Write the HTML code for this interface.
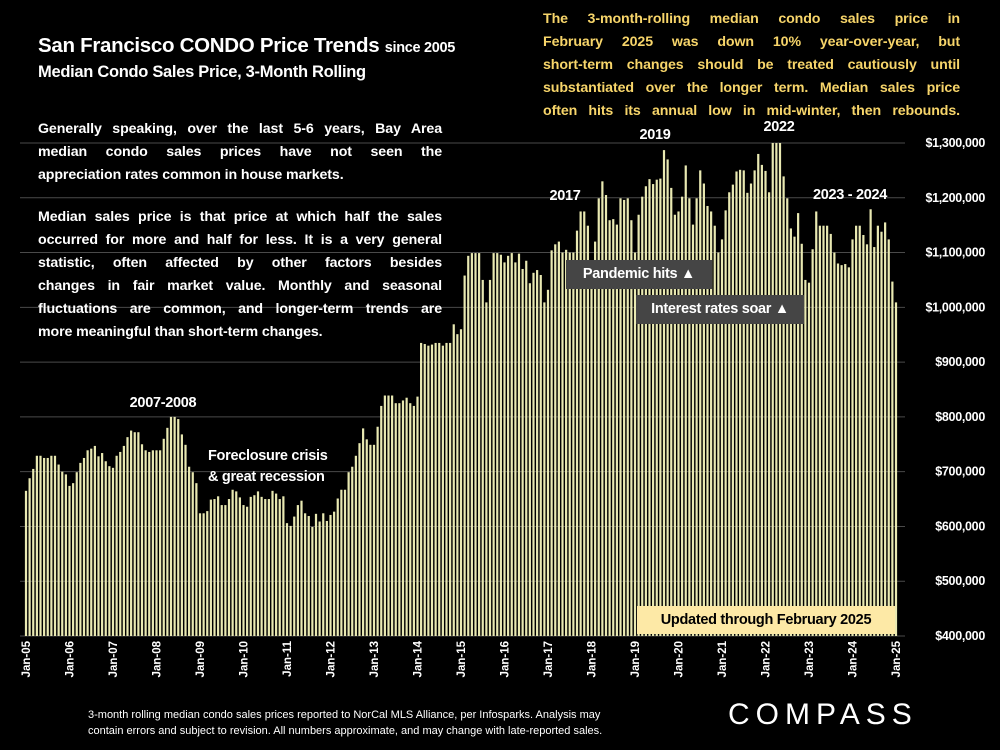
<!DOCTYPE html>
<html><head><meta charset="utf-8"><style>
body{margin:0;background:#000;width:1000px;height:750px;overflow:hidden;font-family:"Liberation Sans",sans-serif;color:#fff}
.t{position:absolute;font-weight:bold;letter-spacing:-0.3px}
.para{position:absolute;font-weight:bold;font-size:14.2px;line-height:23px;letter-spacing:-0.1px}
.para div{text-align:justify;text-align-last:justify;white-space:nowrap}
.para div.l{text-align-last:left}
.ann{position:absolute;font-weight:bold;font-size:14.5px;text-align:center;letter-spacing:-0.3px}
.box{position:absolute;background:#454545;color:#fff;font-weight:bold;font-size:14.5px;text-align:center;letter-spacing:-0.3px}
</style></head><body>
<svg id="chart" width="1000" height="750" style="position:absolute;left:0;top:0"></svg>

<div class="t" style="left:38px;top:34px;font-size:20.5px">San Francisco CONDO Price Trends <span style="font-size:14.5px">since 2005</span></div>
<div class="t" style="left:38px;top:63px;font-size:16.5px">Median Condo Sales Price, 3-Month Rolling</div>
<div class="para" style="left:543px;top:8px;width:417px;color:#f7d56a">
<div>The 3-month-rolling median condo sales price in</div>
<div>February 2025 was down 10% year-over-year, but</div>
<div>short-term changes should be treated cautiously until</div>
<div>substantiated over the longer term. Median sales price</div>
<div>often hits its annual low in mid-winter, then rebounds.</div>
</div>
<div class="para" style="left:38px;top:118px;width:404px">
<div>Generally speaking, over the last 5-6 years, Bay Area</div>
<div>median condo sales prices have not seen the</div>
<div class="l">appreciation rates common in house markets.</div>
</div>
<div class="para" style="left:38px;top:206px;width:404px">
<div>Median sales price is that price at which half the sales</div>
<div>occurred for more and half for less. It is a very general</div>
<div>statistic, often affected by other factors besides</div>
<div>changes in fair market value. Monthly and seasonal</div>
<div>fluctuations are common, and longer-term trends are</div>
<div class="l">more meaningful than short-term changes.</div>
</div>

<div class="ann" style="left:118px;top:395px;width:90px">2007-2008</div>
<div class="ann" style="left:208px;top:446px;width:160px;text-align:left;line-height:21px">Foreclosure crisis<br>&amp; great recession</div>
<div class="ann" style="left:540px;top:188px;width:50px">2017</div>
<div class="ann" style="left:630px;top:127px;width:50px">2019</div>
<div class="ann" style="left:754px;top:119px;width:50px">2022</div>
<div class="ann" style="left:800px;top:187px;width:100px">2023 - 2024</div>
<div class="box" style="left:566px;top:260px;width:146px;height:29px;line-height:29px">Pandemic hits ▲</div>
<div class="box" style="left:636px;top:295px;width:168px;height:29px;line-height:29px">Interest rates soar ▲</div>
<div class="box" style="left:637px;top:606px;width:258px;height:28px;line-height:28px;background:#fde9a6;color:#000">Updated through February 2025</div>

<div style="position:absolute;left:88px;top:707px;width:640px;font-size:11px;line-height:16px">3-month rolling median condo sales prices reported to NorCal MLS Alliance, per Infosparks. Analysis may<br>contain errors and subject to revision. All numbers approximate, and may change with late-reported sales.</div>
<div style="position:absolute;left:728px;top:698px;font-size:30px;letter-spacing:6px;color:#fff">COMPASS</div>

<script>
const years = [2005,2006,2007,2008,2009,2010,2011,2012,2013,2014,2015,2016,2017,2018,2019,2020,2021,2022,2023,2024,2025];
const prices = [
665,688,705,729,729,725,725,729,729,713,700,695,
674,679,699,716,725,739,742,747,728,734,719,710,
707,729,736,747,763,775,772,772,750,739,736,739,
739,739,760,780,800,800,796,768,749,709,699,679,
624,624,628,649,650,655,639,639,650,667,664,653,
639,636,654,657,664,654,650,650,665,660,650,655,
606,601,618,639,647,624,619,599,623,609,624,610,
621,627,651,667,667,699,709,729,752,779,759,749,
749,782,820,839,839,839,825,825,830,835,825,820,
837,935,933,930,932,935,935,930,935,935,969,951,
960,1058,1094,1099,1099,1099,1050,1009,1050,1099,1099,1096,
1082,1094,1099,1082,1098,1070,1085,1044,1063,1068,1059,1009,
1032,1104,1115,1120,1100,1105,1100,1100,1140,1175,1175,1149,
1082,1120,1199,1230,1205,1159,1161,1151,1199,1196,1199,1159,
1100,1169,1202,1221,1234,1225,1233,1235,1287,1270,1218,1169,
1175,1202,1259,1199,1151,1199,1250,1226,1185,1175,1149,1100,
1124,1177,1210,1224,1248,1251,1250,1209,1226,1250,1280,1260,
1249,1210,1300,1300,1300,1239,1199,1144,1129,1172,1116,1050,
1045,1106,1175,1149,1149,1149,1134,1100,1080,1077,1079,1073,
1124,1149,1149,1132,1115,1179,1110,1149,1138,1155,1124,1047,
1009];
const yTicks = [400,500,600,700,800,900,1000,1100,1200,1300];

const NS="http://www.w3.org/2000/svg";
const svg=document.getElementById('chart');
const x0=26, step=3.625, yBase=636, pxPerK=0.5478;
const xs=i=>x0+i*step;
const ys=v=>yBase-(Math.min(v,1300)-400)*pxPerK;
function mk(t,a){const e=document.createElementNS(NS,t);for(const k in a)e.setAttribute(k,a[k]);svg.appendChild(e);return e;}

yTicks.forEach(v=>{
  const l=mk('line',{x1:20,x2:905,y1:ys(v),y2:ys(v),stroke:'#4a4a4a','stroke-width':1});
  
  
  const t=mk('text',{x:985,y:ys(v)+4,'text-anchor':'end','font-size':12.5,'font-weight':'bold',fill:'#fff','font-family':'Liberation Sans, sans-serif','letter-spacing':'-0.3'});
  t.textContent='$'+(v*1000).toLocaleString('en-US');
  
  
});

prices.forEach((v,i)=>{
  const y=ys(v);
  const r=mk('rect',{x:xs(i)-1.1,y:y,width:2.2,height:yBase-y,fill:'#e9e9b2'});
  
  
});

years.forEach((yr,k)=>{
  const x=xs(k*12);
  const t=mk('text',{x:0,y:0,transform:`translate(${x+4},${641}) rotate(-90)`,'text-anchor':'end','font-size':11.5,'font-weight':'bold',fill:'#fff','font-family':'Liberation Sans, sans-serif'});
  t.textContent='Jan-'+String(yr).slice(2);
  
  
});
</script>
</body></html>
